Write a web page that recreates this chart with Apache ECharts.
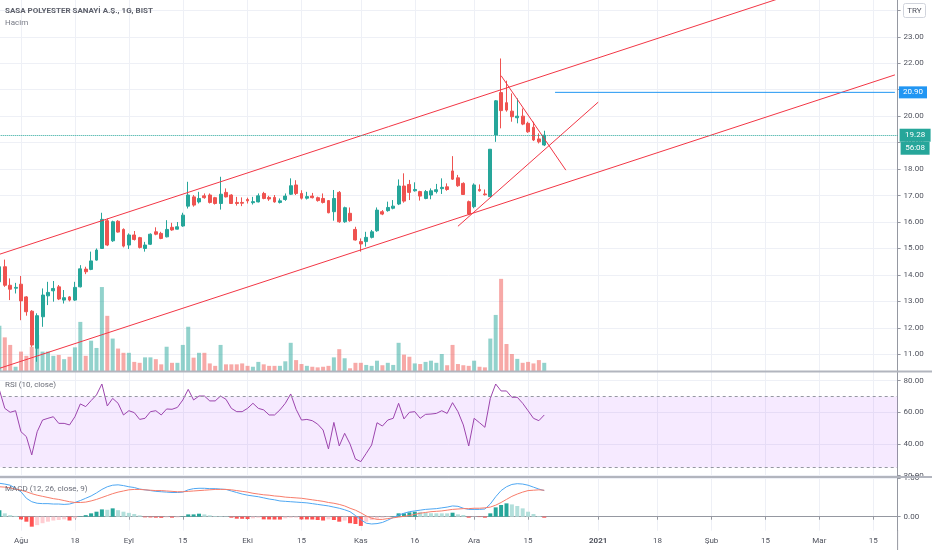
<!DOCTYPE html>
<html><head><meta charset="utf-8">
<script src="https://cdn.jsdelivr.net/npm/echarts@6/dist/echarts.min.js"></script>
<style>html,body{margin:0;padding:0;background:#fff}#c{width:932px;height:550px}</style>
</head><body><div id="c"></div>
<script>
// ---------- data ----------
const tradingDays = {
  '2020-07': [27,28,29,30],
  '2020-08': [4,5,6,7,10,11,12,13,14,17,18,19,20,21,24,25,26,27,28,31],
  '2020-09': [1,2,3,4,7,8,9,10,11,14,15,16,17,18,21,22,23,24,25,28,29,30],
  '2020-10': [1,2,5,6,7,8,9,12,13,14,15,16,19,20,21,22,23,26,27,28,30],
  '2020-11': [2,3,4,5,6,9,10,11,12,13,16,17,18,19,20,23,24,25,26,27,30],
  '2020-12': [1,2,3,4,7,8,9,10,11,14,15,16,17,18,21,22,23,24,25,28,29,30,31],
  '2021-01': [1,4,5,6,7,8,11,12,13,14,15,18,19,20,21,22,25,26,27,28,29],
  '2021-02': [1,2,3,4,5,8,9,10,11,12,15,16,17,18,19,22,23,24,25,26],
  '2021-03': [1,2,3,4,5,8,9,10,11,12,15,16,17,18,19]
};
const xTickLabels = {
  '2020-08-04':'Ağu','2020-08-18':'18','2020-09-01':'Eyl','2020-09-15':'15',
  '2020-10-01':'Eki','2020-10-15':'15','2020-11-02':'Kas','2020-11-16':'16',
  '2020-12-01':'Ara','2020-12-15':'15','2021-01-01':'2021','2021-01-18':'18',
  '2021-02-01':'Şub','2021-02-15':'15','2021-03-01':'Mar','2021-03-15':'15'
};
const priceTicks = [11,12,13,14,15,16,17,18,19,20,21,22,23,24];
const rsiTicks = [20,40,60,80];
const macdTicks = [0,1];

const open = [13.74,14.31,13.61,13.50,13.65,13.17,12.63,11.23,12.42,13.21, 13.40,13.55,13.05,13.17,13.05,13.55,14.22,14.21,14.56,15.00,
 16.05,15.29,16.03,15.72,15.13,15.51,15.41,15.00,15.16,15.63, 15.57,15.44,15.80,15.73,15.85,16.60,16.95,16.76,16.99,17.02,
 16.92,16.70,17.12,17.02,16.74,16.74,16.85,16.73,16.76,17.08, 16.93,16.93,16.74,16.85,17.05,17.40,17.08,16.90,16.98,16.92,
 16.89,16.81,16.39,17.12,16.01,16.33,15.72,15.26,15.26,15.42, 15.67,16.39,16.43,16.52,16.68,17.36,17.42,17.18,17.15,16.89,
 17.02,17.15,17.26,17.33,17.93,17.67,17.46,16.77,16.58,17.23, 17.06,16.96,19.29,20.89,20.51,20.19,19.94,20.00,19.73,19.58,
 19.14,18.91];
const high = [14.56,14.58,13.87,13.70,13.96,13.20,12.67,12.55,13.49,13.74, 13.77,13.62,13.43,13.20,13.74,14.37,14.31,14.88,15.00,16.35,
 16.13,16.05,16.07,15.76,15.57,15.66,15.44,15.25,15.57,15.80, 15.63,16.07,15.97,16.00,16.35,17.52,17.02,17.14,17.08,17.08,
 16.95,17.71,17.27,17.05,16.95,16.93,16.92,16.95,17.08,17.14, 16.99,17.02,16.89,17.08,17.65,17.58,17.20,17.14,17.10,16.96,
 17.08,16.83,17.21,17.17,16.58,16.55,15.82,15.38,15.63,15.70, 16.55,16.45,16.77,16.83,17.61,17.84,17.59,17.50,17.18,17.21,
 17.27,17.44,17.65,17.46,18.49,17.78,17.50,16.81,17.46,17.42, 17.23,18.75,20.61,22.18,21.34,20.86,20.67,20.29,19.79,19.79,
 19.35,19.45];
const low = [13.70,13.55,13.05,13.30,12.29,12.46,11.28,10.72,12.04,12.86, 12.99,13.05,12.92,13.00,13.02,13.53,14.03,14.18,14.54,14.98,
 15.09,15.25,15.60,15.04,14.98,15.30,15.00,14.88,15.13,15.50, 15.35,15.42,15.67,15.72,15.82,16.51,16.58,16.70,16.88,16.70,
 16.66,16.47,16.93,16.68,16.62,16.60,16.70,16.66,16.74,16.86, 16.80,16.73,16.70,16.80,17.02,17.02,16.85,16.85,16.89,16.77,
 16.70,16.33,16.05,15.97,15.97,16.01,15.30,14.88,15.07,15.38, 15.63,16.26,16.39,16.48,16.64,16.73,16.83,17.15,16.81,16.86,
 16.86,17.08,17.06,17.18,17.59,17.33,17.02,16.26,16.52,17.15, 17.00,16.94,19.03,19.54,20.17,19.79,19.73,19.66,19.37,19.06,
 18.97,18.87];
const close = [14.31,13.61,13.46,13.53,13.02,12.61,11.35,12.46,13.24,13.34, 13.49,13.09,13.14,13.05,13.53,14.23,14.12,14.53,14.94,16.10,
 15.13,16.01,15.62,15.09,15.51,15.34,15.04,15.13,15.54,15.54, 15.38,15.72,15.70,15.82,16.26,17.02,16.64,16.89,16.92,16.74,
 16.70,17.05,16.95,16.70,16.70,16.71,16.80,16.77,16.99,16.89, 16.87,16.76,16.80,16.98,17.37,17.08,16.90,16.96,16.92,16.81,
 16.74,16.35,16.89,16.01,16.54,16.05,15.32,15.17,15.42,15.63, 16.45,16.30,16.55,16.60,17.36,16.79,17.12,17.23,16.98,17.15,
 17.18,17.22,17.31,17.23,17.62,17.37,17.04,16.30,17.40,17.18, 17.03,18.75,20.58,20.21,20.23,19.98,20.00,19.70,19.41,19.10,
 19.03,19.28];
// volume, millions
const volume = [14.9,11.1,8.6,1.4,6.4,5.0,8.0,11.9,6.4,6.4, 5.0,5.3,3.9,4.7,7.8,16.2,5.0,10.0,7.6,27.7,
 18.2,10.7,7.4,6.0,6.0,3.0,2.7,4.5,4.5,3.9, 2.2,8.0,2.7,2.7,8.6,14.6,4.4,6.0,6.0,2.5,
 1.7,8.6,2.2,2.2,2.2,2.5,1.7,1.4,3.0,2.2, 1.7,1.7,1.7,3.2,9.3,3.6,2.3,1.7,1.4,1.2,
 1.4,1.7,4.5,7.2,4.2,0.9,2.7,2.7,2.0,1.7, 3.4,1.9,2.7,2.0,9.3,5.4,4.7,2.5,2.3,3.0,
 3.4,2.7,5.6,1.9,8.6,2.3,1.9,1.7,3.4,1.4, 1.2,10.7,18.5,30.4,8.9,5.6,4.0,2.7,3.0,2.5,
 3.6,2.7];
const rsi = [74.1,62.5,60.0,61.0,47.7,44.6,33.0,47.7,55.1,56.2, 57.2,53.0,53.0,52.0,57.2,65.3,63.6,67.4,71.0,77.9,
 64.0,68.8,65.7,58.3,61.0,59.8,55.5,56.2,60.4,61.0, 58.3,62.1,61.9,63.1,67.8,74.5,67.8,70.3,70.3,67.2,
 67.2,70.3,68.2,62.5,60.4,60.4,62.5,65.7,62.5,61.5, 58.3,58.3,61.5,65.7,71.6,61.9,55.1,55.5,54.7,52.5,
 48.8,36.8,53.6,38.7,46.7,39.9,30.4,28.8,34.0,39.3, 53.4,51.3,55.1,56.2,65.7,55.8,60.0,60.4,56.2,58.7,
 58.9,59.3,61.0,59.3,66.1,60.4,52.0,38.7,56.2,53.4, 50.5,68.8,77.9,73.5,73.5,69.5,69.5,65.7,61.0,56.2,
 54.7,58.3];
const rsiBands = [70, 25];
const macd = [0.87,0.85,0.82,0.74,0.65,0.48,0.39,0.35,0.34,0.34, 0.33,0.33,0.32,0.33,0.37,0.42,0.48,0.54,0.62,0.71,
 0.78,0.82,0.83,0.81,0.78,0.76,0.72,0.70,0.68,0.66, 0.65,0.64,0.63,0.63,0.64,0.70,0.73,0.74,0.74,0.73,
 0.73,0.72,0.71,0.67,0.63,0.59,0.56,0.54,0.52,0.49, 0.46,0.44,0.41,0.40,0.39,0.38,0.37,0.36,0.34,0.32,
 0.30,0.28,0.25,0.22,0.18,0.13,0.03,-0.08,-0.17,-0.19, -0.18,-0.15,-0.09,-0.02,0.04,0.09,0.13,0.15,0.17,0.19,
 0.20,0.21,0.23,0.25,0.28,0.27,0.22,0.19,0.19,0.19, 0.20,0.33,0.52,0.68,0.78,0.84,0.86,0.85,0.82,0.77,
 0.72,0.68];
const signal = [0.78,0.77,0.75,0.72,0.69,0.65,0.60,0.56,0.53,0.50, 0.47,0.45,0.42,0.39,0.37,0.37,0.38,0.41,0.45,0.50,
 0.55,0.60,0.64,0.67,0.70,0.71,0.71,0.70,0.69,0.68, 0.68,0.67,0.66,0.65,0.65,0.66,0.67,0.68,0.69,0.70,
 0.71,0.71,0.71,0.70,0.68,0.66,0.64,0.61,0.59,0.57, 0.56,0.54,0.53,0.51,0.50,0.49,0.48,0.46,0.44,0.42,
 0.40,0.37,0.35,0.32,0.28,0.22,0.17,0.10,0.02,-0.04, -0.07,-0.07,-0.05,-0.03,-0.01,0.01,0.03,0.06,0.09,0.11,
 0.13,0.14,0.15,0.17,0.19,0.20,0.21,0.21,0.22,0.22, 0.23,0.25,0.30,0.37,0.45,0.53,0.59,0.64,0.68,0.69,
 0.70,0.69];
const hist = [0.17,0.087,0.04,0.02,-0.07,-0.13,-0.26,-0.22,-0.17,-0.13, -0.10,-0.087,-0.07,-0.10,-0.043,0.01,0.04,0.087,0.13,0.19,
 0.18,0.217,0.17,0.13,0.10,0.07,0.035,-0.017,-0.02,-0.026, -0.03,-0.017,-0.026,-0.017,0.01,0.06,0.06,0.078,0.06,0.035,
 0.017,0.015,0.01,-0.026,-0.052,-0.055,-0.06,-0.043,-0.026,-0.07, -0.072,-0.074,-0.075,-0.043,-0.026,-0.024,-0.07,-0.072,-0.074,-0.087,
 -0.10,-0.07,-0.087,-0.13,-0.10,-0.17,-0.19,-0.24,-0.13,-0.087, -0.052,-0.026,-0.009,0.01,0.087,0.087,0.113,0.13,0.125,0.104,
 0.09,0.088,0.087,0.086,0.104,0.061,0.043,-0.026,-0.005,-0.01, -0.026,0.087,0.243,0.304,0.347,0.32,0.278,0.217,0.13,0.07,
 0.017,-0.026];
// drawn trend lines: [date, price]
const upperChannel = [['2020-07-27', 14.78], ['2021-03-19', 25.88]];
const lowerChannel = [['2020-07-27', 10.47], ['2021-03-19', 21.56]];
const risingLine   = [['2020-11-26', 15.84], ['2021-01-01', 20.53]];
const fallingLine  = [['2020-12-08', 21.53], ['2020-12-24', 17.96]];
const resistance   = [['2020-12-22', 20.90], ['2021-03-19', 20.90]];
const countdown = '56:08';

// ---------- chart ----------
const dates = [];
for (const m in tradingDays) for (const d of tradingDays[m]) dates.push(m + '-' + String(d).padStart(2, '0'));

const FONT = 'Roboto, "Noto Sans", sans-serif';
const UP = '#26a69a', DOWN = '#ef5350';
const AX = '#9598a1', GRIDC = '#eef0f6', TXT = '#50535e';
const isTick = (i, v) => Object.prototype.hasOwnProperty.call(xTickLabels, v);

const candleData = open.map((o, i) => [o, close[i], low[i], high[i]]);
const volData = volume.map((v, i) => ({ value: v, itemStyle: { color: close[i] >= open[i] ? 'rgba(38,166,154,0.5)' : 'rgba(239,83,80,0.5)' } }));
const histData = hist.map((h, i) => {
  const p = i > 0 ? hist[i - 1] : h;
  const c = h >= 0 ? (h >= p ? '#26a69a' : '#b2dfdb') : (h < p ? '#ff5252' : '#ffcdd2');
  return { value: h, itemStyle: { color: c } };
});

const GL = -3.3, GW = 900.9;
function xAx(gi, show) {
  return {
    type: 'category', gridIndex: gi, data: dates, boundaryGap: true,
    axisLine: { show: show, lineStyle: { color: AX } },
    axisTick: { show: show, alignWithLabel: true, interval: isTick, length: 3, lineStyle: { color: AX } },
    axisLabel: {
      show: show, interval: isTick, margin: 6, color: TXT, fontSize: 8, fontFamily: FONT,
      formatter: v => { const t = xTickLabels[v] || ''; return /^\d{4}$/.test(t) ? '{b|' + t + '}' : t; },
      rich: { b: { fontWeight: 'bold', fontSize: 8, color: TXT, fontFamily: FONT } }
    },
    splitLine: { show: true, interval: isTick, alignWithLabel: true, lineStyle: { color: GRIDC } }
  };
}
function yAx(gi, min, max, ticks) {
  return {
    type: 'value', gridIndex: gi, position: 'right', min: min, max: max,
    axisLine: { show: true, lineStyle: { color: AX } },
    axisTick: { show: true, customValues: ticks, length: 3, lineStyle: { color: AX } },
    axisLabel: { show: true, customValues: ticks, formatter: v => Number(v).toFixed(2), color: TXT, fontSize: 8, fontFamily: FONT, margin: 6 },
    splitLine: { show: true, lineStyle: { color: GRIDC } }
  };
}
function trend(data) {
  return { type: 'line', xAxisIndex: 0, yAxisIndex: 0, data: data, showSymbol: false, silent: true, z: 4,
    lineStyle: { color: '#f23645', width: 1 }, clip: true };
}

const last = close[close.length - 1];
const option = {
  animation: false,
  backgroundColor: '#ffffff',
  textStyle: { fontFamily: FONT },
  title: [
    { text: 'SASA POLYESTER SANAYİ A.Ş., 1G, BIST', left: 5, top: 6, padding: 0, textStyle: { fontSize: 8, fontWeight: 'bold', color: '#5d606b', fontFamily: FONT, lineHeight: 10 } },
    { text: 'Hacim', left: 5, top: 17.5, padding: 0, textStyle: { fontSize: 8, fontWeight: 'normal', color: '#787b86', fontFamily: FONT, lineHeight: 10 } },
    { text: 'RSI (10, close)', left: 5, top: 379.5, padding: 0, textStyle: { fontSize: 8, fontWeight: 'normal', color: '#6a6d78', fontFamily: FONT, lineHeight: 10 } },
    { text: 'MACD (12, 26, close, 9)', left: 5, top: 484, padding: 0, textStyle: { fontSize: 8, fontWeight: 'normal', color: '#6a6d78', fontFamily: FONT, lineHeight: 10 } }
  ],
  grid: [
    { left: GL, width: GW, top: 0, height: 371, containLabel: false, outerBoundsMode: 'none' },
    { left: GL, width: GW, top: 372, height: 104.3, containLabel: false, outerBoundsMode: 'none' },
    { left: GL, width: GW, top: 477.5, height: 53.2, containLabel: false, outerBoundsMode: 'none' }
  ],
  xAxis: [xAx(0, false), xAx(1, false), xAx(2, true)],
  yAxis: [
    yAx(0, 10.37, 24.39, priceTicks),
    { type: 'value', gridIndex: 0, min: 0, max: 122.4, show: false, splitLine: { show: false } },
    yAx(1, 19.5, 85.5, rsiTicks),
    yAx(2, -0.365, 1.021, macdTicks)
  ],
  graphic: [
    { type: 'line', z: 100, shape: { x1: 0, y1: 371.5, x2: 932, y2: 371.5 }, style: { stroke: '#b2b5be', lineWidth: 2 } },
    { type: 'line', z: 100, shape: { x1: 0, y1: 477, x2: 932, y2: 477 }, style: { stroke: '#b2b5be', lineWidth: 2 } },
    { type: 'line', z: 100, shape: { x1: 897.6, y1: 530, x2: 897.6, y2: 550 }, style: { stroke: AX, lineWidth: 1 } },
    { type: 'rect', z: 100, shape: { x: 903.5, y: 3.5, width: 22, height: 14, r: 2 }, style: { fill: '#ffffff', stroke: '#d1d4dc', lineWidth: 1 } },
    { type: 'text', z: 101, style: { x: 914.5, y: 10.5, text: 'TRY', fill: TXT, font: '8px Roboto', align: 'center', verticalAlign: 'middle' } }
  ],
  series: [
    { type: 'bar', name: 'Hacim', xAxisIndex: 0, yAxisIndex: 1, data: volData, barWidth: 4, z: 1, silent: true },
    { type: 'candlestick', xAxisIndex: 0, yAxisIndex: 0, data: candleData, barWidth: 3.4, z: 3,
      itemStyle: { color: UP, color0: DOWN, borderColor: UP, borderColor0: DOWN, borderWidth: 1 },
      markLine: { silent: true, symbol: 'none', z: 5,
        data: [{ yAxis: last, lineStyle: { color: UP, type: 'dotted', width: 1 },
          label: { show: true, position: 'end', distance: 2,
            formatter: '{e| }\n{a|' + last.toFixed(2) + '}\n{b|' + countdown + '}',
            rich: {
              e: { height: 13, fontSize: 8 },
              a: { backgroundColor: UP, color: '#fff', fontSize: 8, fontFamily: FONT, width: 25, height: 13, align: 'center', padding: [0, 3] },
              b: { backgroundColor: UP, color: '#fff', fontSize: 8, fontFamily: FONT, width: 23, height: 13, align: 'center', padding: [0, 3] }
            } } }] } },
    trend(upperChannel), trend(lowerChannel), trend(risingLine), trend(fallingLine),
    { type: 'line', xAxisIndex: 0, yAxisIndex: 0, data: resistance, showSymbol: false, silent: true, z: 4,
      lineStyle: { color: '#2196f3', width: 1 },
      endLabel: { show: true, distance: 4, formatter: p => Number(p.value[1]).toFixed(2), backgroundColor: '#2196f3', color: '#fff', fontSize: 8, fontFamily: FONT, padding: [2, 4] } },
    { type: 'line', name: 'RSI', xAxisIndex: 1, yAxisIndex: 2, data: rsi, showSymbol: false, silent: true, z: 3,
      lineStyle: { color: '#9c45ad', width: 1 },
      markArea: { silent: true, itemStyle: { color: 'rgba(153,21,255,0.09)' }, data: [[{ yAxis: rsiBands[0] }, { yAxis: rsiBands[1] }]] },
      markLine: { silent: true, symbol: 'none', label: { show: false },
        lineStyle: { color: '#9598a1', type: [3, 3], width: 1 },
        data: rsiBands.map(v => ({ yAxis: v })) } },
    { type: 'bar', name: 'Histogram', xAxisIndex: 2, yAxisIndex: 3, data: histData, barWidth: 4, z: 2, silent: true },
    { type: 'line', name: 'MACD', xAxisIndex: 2, yAxisIndex: 3, data: macd, showSymbol: false, silent: true, z: 3, lineStyle: { color: '#4ea7f2', width: 1 } },
    { type: 'line', name: 'Signal', xAxisIndex: 2, yAxisIndex: 3, data: signal, showSymbol: false, silent: true, z: 3, lineStyle: { color: '#f77c6a', width: 1 } }
  ]
};
const chart = echarts.init(document.getElementById('c'));
chart.setOption(option);
</script>
</body></html>
